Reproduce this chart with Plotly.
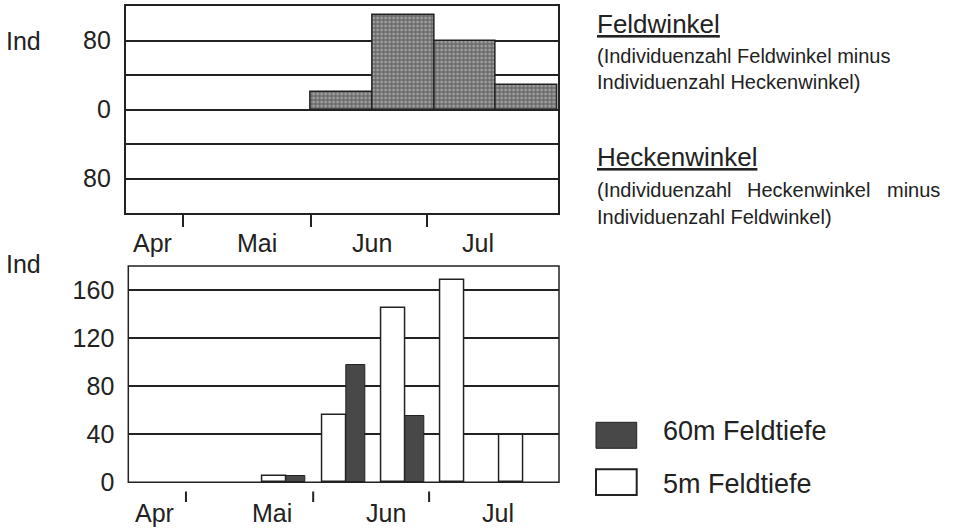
import plotly.graph_objects as go

W, H = 953, 529

# ---------------- data ----------------
sample_idx = [0, 1, 2, 3, 4, 5, 6]
# top panel: Feldwinkel minus Heckenwinkel (positive = Feldwinkel)
feld_minus_hecken = [0, 0, 0, 20, 110, 79, 28]
# bottom panel
feldtiefe_5m = [0, 0, 5, 56, 145, 168, 39]
feldtiefe_60m = [0, 0, 5, 98, 55, 0, 0]

top_ytick_vals = [-80, -40, 0, 40, 80]
top_ytick_text = ["80", "", "0", "", "80"]
bot_ytick_vals = [0, 40, 80, 120, 160]
bot_ytick_text = ["0", "40", "80", "120", "160"]

months = ["Apr", "Mai", "Jun", "Jul"]
top_month_bounds = [0.435, 2.505, 4.38]
top_month_label_pos = [-0.067, 1.625, 3.49, 5.21]
bot_month_bounds = [0.302, 2.449, 4.405]
bot_month_label_pos = [-0.221, 1.747, 3.675, 5.57]

legend_names = ["60m Feldtiefe", "5m Feldtiefe"]

# ---------------- style ----------------
FONT = "Liberation Sans, Arial, Helvetica, sans-serif"
INK = "#222222"
DARK = "#484848"
CLEAR = "rgba(0,0,0,0)"


def px_x(p):
    return p / W


def px_y(p):
    return 1 - p / H


def outline(vals, w):
    # no outline on empty (zero) bars
    return [w if v else 0 for v in vals]


fig = go.Figure()

fig.add_trace(go.Bar(
    x=sample_idx, y=feld_minus_hecken, width=1.0,
    xaxis="x", yaxis="y",
    marker=dict(color="#606060",
                pattern=dict(shape="+", fgcolor="#151515", bgcolor="#a0a0a0",
                             size=4, solidity=0.5),
                line=dict(color=INK, width=outline(feld_minus_hecken, 1.5))),
    showlegend=False, hoverinfo="skip"))

fig.add_trace(go.Bar(
    x=sample_idx, y=feldtiefe_5m, width=0.405, offset=-0.405,
    xaxis="x2", yaxis="y2", name=legend_names[1],
    marker=dict(color="white",
                line=dict(color=INK, width=outline(feldtiefe_5m, 1.5))),
    showlegend=False, hoverinfo="skip"))

fig.add_trace(go.Bar(
    x=sample_idx, y=feldtiefe_60m, width=0.32, offset=0.0,
    xaxis="x2", yaxis="y2", name=legend_names[0],
    marker=dict(color=DARK,
                line=dict(color=INK, width=outline(feldtiefe_60m, 1))),
    showlegend=False, hoverinfo="skip"))

tickfont = dict(family=FONT, size=25, color=INK)

fig.update_layout(
    width=W, height=H, autosize=False,
    margin=dict(l=0, r=0, t=0, b=0, pad=0),
    paper_bgcolor="white", plot_bgcolor="white",
    barmode="overlay", bargap=0,
    font=dict(family=FONT, color=INK),
    xaxis=dict(domain=[px_x(125.6), px_x(557.7)], anchor="y",
               range=[-0.5, 6.5], showgrid=False, zeroline=False,
               showline=True, mirror=True, linecolor=INK, linewidth=1.5,
               ticks="outside", tickvals=top_month_bounds, ticklen=12,
               tickwidth=2, tickcolor=INK, showticklabels=False,
               automargin=False, fixedrange=True),
    yaxis=dict(domain=[px_y(213), px_y(6)], anchor="x",
               range=[-120, 120], tickvals=top_ytick_vals,
               ticktext=top_ytick_text, showgrid=True, gridcolor=INK,
               gridwidth=1.5, zeroline=False, showline=True, mirror=True,
               linecolor=INK, linewidth=1.5, ticks="outside", ticklen=8,
               tickcolor=CLEAR, tickfont=tickfont, automargin=False,
               fixedrange=True),
    xaxis2=dict(domain=[px_x(128.3), px_x(559)], anchor="y2",
                range=[-0.671, 6.597],
                showgrid=False, zeroline=False, showline=False,
                ticks="", showticklabels=False,
                automargin=False, fixedrange=True),
    yaxis2=dict(domain=[px_y(482.3), px_y(266)], anchor="x2",
                range=[0, 180], tickvals=bot_ytick_vals,
                ticktext=bot_ytick_text, showgrid=True, gridcolor=INK,
                gridwidth=1.5, zeroline=False, showline=False,
                ticks="outside", ticklen=8, tickcolor=CLEAR,
                tickfont=tickfont, automargin=False, fixedrange=True),
)

shapes = [
    # bottom panel frame
    dict(type="rect", xref="x2 domain", yref="y2 domain", x0=0, x1=1,
         y0=0, y1=1, line=dict(color=INK, width=1.5), layer="above"),
    # legend swatches
    dict(type="rect", xref="paper", yref="paper",
         x0=px_x(596), x1=px_x(636.7), y0=px_y(448.3), y1=px_y(422.3),
         fillcolor=DARK, line=dict(color=INK, width=1)),
    dict(type="rect", xref="paper", yref="paper",
         x0=px_x(596), x1=px_x(636.7), y0=px_y(495), y1=px_y(469.3),
         fillcolor="white", line=dict(color=INK, width=2)),
]
# detached month-boundary ticks under the bottom panel
for b in bot_month_bounds:
    shapes.append(dict(type="line", xref="x2", yref="paper", x0=b, x1=b,
                       y0=px_y(491.5), y1=px_y(502),
                       line=dict(color=INK, width=2)))
fig.update_layout(shapes=shapes)

ann = []
# month labels
for m, xp in zip(months, top_month_label_pos):
    ann.append(dict(text=m, x=xp, xref="x", y=px_y(243.3), yref="paper",
                    xanchor="center", yanchor="middle", showarrow=False,
                    font=dict(family=FONT, size=25, color=INK)))
for m, xp in zip(months, bot_month_label_pos):
    ann.append(dict(text=m, x=xp, xref="x2", y=px_y(512.7), yref="paper",
                    xanchor="center", yanchor="middle", showarrow=False,
                    font=dict(family=FONT, size=25, color=INK)))
# "Ind" labels
for yy in (41, 264):
    ann.append(dict(text="Ind", x=px_x(4), xref="paper", y=px_y(yy),
                    yref="paper", xanchor="left", yanchor="middle",
                    showarrow=False,
                    font=dict(family=FONT, size=25, color=INK)))


def txt(t, x, y, size, anchor="left"):
    ann.append(dict(text=t, x=px_x(x), xref="paper", y=px_y(y), yref="paper",
                    xanchor=anchor, yanchor="middle", showarrow=False,
                    font=dict(family=FONT, size=size, color=INK)))


# right-hand explanation
txt("<u>Feldwinkel</u>", 595, 24, 26)
txt("(Individuenzahl Feldwinkel minus", 595, 56, 20)
txt("Individuenzahl Heckenwinkel)", 595, 82, 20)
txt("<u>Heckenwinkel</u>", 595, 157, 26)
txt("(Individuenzahl", 595, 190, 20)
txt("Heckenwinkel", 745, 190, 20)
txt("minus", 942, 190, 20, anchor="right")
txt("Individuenzahl Feldwinkel)", 595, 217, 20)

# legend texts
txt(legend_names[0], 661, 431, 27)
txt(legend_names[1], 661, 484, 27)

fig.update_layout(annotations=ann)

fig.write_html("out.html", config=dict(displayModeBar=False),
               post_script="document.body.style.margin='0px';"
                           "document.body.style.padding='0px';")
